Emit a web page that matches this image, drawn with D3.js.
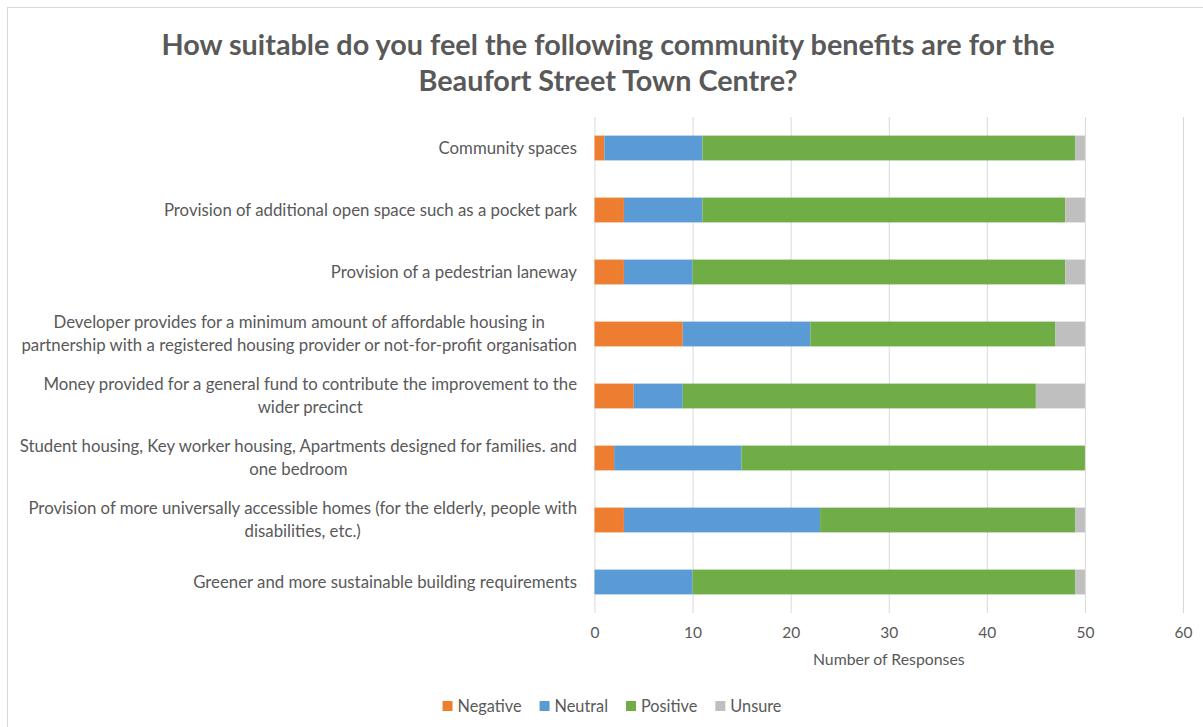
<!DOCTYPE html>
<html>
<head>
<meta charset="utf-8">
<script src="https://cdn.jsdelivr.net/npm/d3@7"></script>
<style>
  html, body { margin: 0; padding: 0; background: #ffffff; }
  svg { display: block; font-family: Lato, "Open Sans", sans-serif; }
</style>
</head>
<body>
<svg id="chart" width="1203" height="727"></svg>
<script>
// Survey answers per community benefit (number of responses)
const categories = [
  ["Community spaces"],
  ["Provision of additional open space such as a pocket park"],
  ["Provision of a pedestrian laneway"],
  ["Developer provides for a minimum amount of affordable housing in",
   "partnership with a registered housing provider or not-for-profit organisation"],
  ["Money provided for a general fund to contribute the improvement to the",
   "wider precinct"],
  ["Student housing, Key worker housing, Apartments designed for families. and",
   "one bedroom"],
  ["Provision of more universally accessible homes (for the elderly, people with",
   "disabilities, etc.)"],
  ["Greener and more sustainable building requirements"]
];
const seriesNames = ["Negative", "Neutral", "Positive", "Unsure"];
const negative = [1, 3, 3, 9, 4, 2, 3, 0];
const neutral  = [10, 8, 7, 13, 5, 13, 20, 10];
const positive = [38, 37, 38, 25, 36, 35, 26, 39];
const unsure   = [1, 2, 2, 3, 5, 0, 1, 1];
const xTicks = [0, 10, 20, 30, 40, 50, 60];
const titleLines = [
  "How suitable do you feel the following community benefits are for the",
  "Beaufort Street Town Centre?"
];
const xAxisTitle = "Number of Responses";

const colors = ["#ED7D31", "#5B9BD5", "#70AD47", "#BFBFBF"];
const textColor = "#595959";

const svg = d3.select("#chart");

// light frame around the chart
svg.append("rect")
  .attr("x", 7.5).attr("y", 7.5)
  .attr("width", 1220).attr("height", 760)
  .attr("fill", "none").attr("stroke", "#D9D9D9").attr("stroke-width", 1);

// rows built from the arrays
const keys = categories.map((c, i) => "c" + i);
const rows = categories.map((c, i) => ({
  key: keys[i],
  Negative: negative[i], Neutral: neutral[i], Positive: positive[i], Unsure: unsure[i]
}));

const x = d3.scaleLinear().domain([0, 60]).range([594.5, 1183]);
const y = d3.scaleBand().domain(keys).range([117, 613]).paddingInner(0.6).paddingOuter(0.3);

// title
svg.append("g").selectAll("text")
  .data(titleLines).join("text")
  .attr("x", 608).attr("y", (d, i) => 55 + i * 36)
  .attr("text-anchor", "middle")
  .attr("fill", textColor)
  .attr("font-size", 28.8).attr("font-weight", 700)
  .text(d => d);

// vertical gridlines
const xAxis = d3.axisBottom(x).tickValues(xTicks).tickSize(-(613 - 117)).tickPadding(14);
const gx = svg.append("g").attr("transform", "translate(0,613)").call(xAxis);
gx.select(".domain").remove();
gx.selectAll(".tick line").attr("stroke", "#D9D9D9").attr("stroke-width", 1);
gx.selectAll(".tick text").attr("fill", textColor).attr("font-size", 15.5)
  .attr("font-family", "Lato, 'Open Sans', sans-serif");

// stacked bars
const stack = d3.stack().keys(seriesNames);
const layers = stack(rows);
svg.append("g").selectAll("g")
  .data(layers).join("g")
  .attr("fill", (d, i) => colors[i])
  .selectAll("rect")
  .data(d => d).join("rect")
  .attr("x", d => x(d[0]))
  .attr("y", d => y(d.data.key))
  .attr("width", d => x(d[1]) - x(d[0]))
  .attr("height", y.bandwidth());

// category labels: right-aligned block, lines centred within the block
const lineH = 23;
const labelRight = 577;
const labelG = svg.append("g").attr("fill", textColor).attr("font-size", 16.8);
categories.forEach((lines, i) => {
  const cy = y(keys[i]) + y.bandwidth() / 2;
  const g = labelG.append("g");
  const texts = g.selectAll("text").data(lines).join("text")
    .attr("y", (d, j) => cy + (j - (lines.length - 1) / 2) * lineH)
    .attr("dy", "0.35em")
    .text(d => d);
  const widths = texts.nodes().map(n => n.getComputedTextLength());
  const blockW = d3.max(widths);
  texts.attr("x", labelRight - blockW / 2).attr("text-anchor", "middle");
});

// axis title
svg.append("text")
  .attr("x", (x(0) + x(60)) / 2).attr("y", 665)
  .attr("text-anchor", "middle")
  .attr("fill", textColor).attr("font-size", 15.8)
  .text(xAxisTitle);

// legend
const legend = svg.append("g").attr("font-size", 16.3).attr("fill", textColor);
const items = legend.selectAll("g").data(seriesNames).join("g");
items.append("rect").attr("width", 10).attr("height", 10).attr("y", -5)
  .attr("fill", (d, i) => colors[i]);
items.append("text").attr("x", 15).attr("dy", "0.35em").text(d => d);
let cursor = 0;
const positions = [];
items.each(function (d) {
  positions.push(cursor);
  cursor += this.getBBox().width + 18;
});
const totalW = cursor - 18;
const startX = 612 - totalW / 2;
items.attr("transform", (d, i) => `translate(${startX + positions[i]},706)`);
</script>
</body>
</html>
